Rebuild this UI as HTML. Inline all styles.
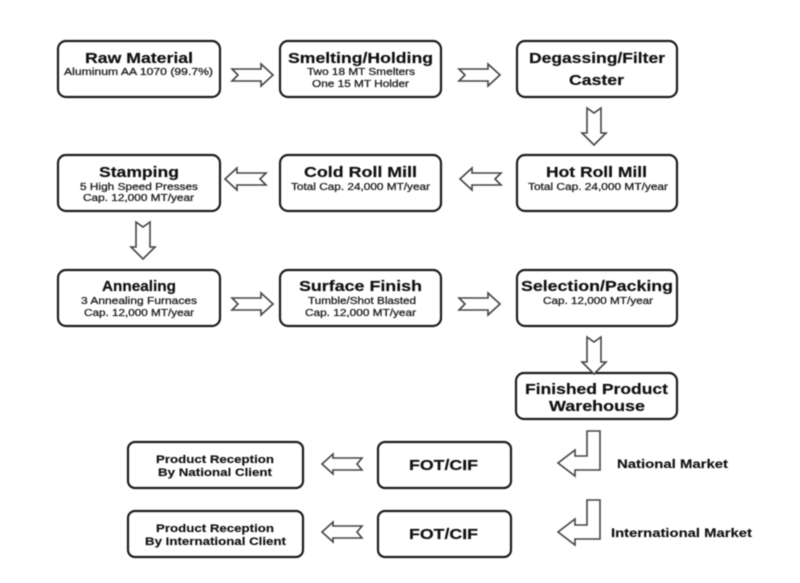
<!DOCTYPE html>
<html>
<head>
<meta charset="utf-8">
<style>
html,body{margin:0;padding:0;background:#fff;width:800px;height:583px;overflow:hidden}
svg{display:block;filter:blur(.6px)}
text{font-family:"Liberation Sans",Arial,sans-serif;fill:#111;text-anchor:middle}
.t{font-weight:700;font-size:15px;stroke:#111;stroke-width:.2px}
.m{font-weight:700;font-size:13px;stroke:#111;stroke-width:.15px}
.s{font-size:10px;fill:#222;stroke:#222;stroke-width:.3px}
rect{fill:#fff;stroke:#1c1c1c;stroke-width:2.2}
path{fill:#fff;stroke:#444;stroke-width:1.6;stroke-linejoin:miter}
</style>
</head>
<body>
<svg width="800" height="583" viewBox="0 0 800 583" xmlns="http://www.w3.org/2000/svg">
<rect x="58" y="41" width="162" height="56" rx="8"/>
<rect x="280" y="41" width="161" height="56" rx="8"/>
<rect x="517" y="41" width="160" height="56" rx="8"/>
<rect x="58" y="155" width="162" height="56" rx="8"/>
<rect x="280" y="155" width="161" height="56" rx="8"/>
<rect x="517" y="155" width="160" height="56" rx="8"/>
<rect x="58" y="270" width="162" height="56" rx="8"/>
<rect x="280" y="270" width="161" height="56" rx="8"/>
<rect x="517" y="270" width="160" height="56" rx="8"/>
<rect x="516" y="373" width="161" height="46" rx="8"/>
<rect x="128" y="442" width="175" height="46" rx="7"/>
<rect x="128" y="511" width="175" height="46" rx="7"/>
<rect x="378" y="442" width="133" height="46" rx="7"/>
<rect x="378" y="511" width="133" height="46" rx="7"/>

<path d="M232 69H261V64L273 75L261 86V81H232L238 75Z"/>
<path d="M459 69H488V64L500 75L488 86V81H459L465 75Z"/>
<path d="M232 298H261V293L273 304L261 315V310H232L238 304Z"/>
<path d="M459 298H488V293L500 304L488 315V310H459L465 304Z"/>
<path d="M266 173H237V168L225 179L237 190V185H266L260 179Z"/>
<path d="M501 173H472V168L460 179L472 190V185H501L495 179Z"/>
<path d="M362 458H333V454L322 464L333 474V470H362L357 464Z"/>
<path d="M362 526H333V522L322 532L333 542V538H362L357 532Z"/>
<path d="M587 108V133H582L594 145L606 133H601V108L594 113Z"/>
<path d="M136 222V247H131L143 259L155 247H150V222L143 227Z"/>
<path d="M587 337V362H582L594 374L606 362H601V337L594 342Z"/>
<path d="M587 431H600V470H575V476L558 463L575 450V456H587Z"/>
<path d="M587 500H600V539H575V545L558 532L575 519V525H587Z"/>

<text class="t" x="139" y="63" textLength="108" lengthAdjust="spacingAndGlyphs">Raw Material</text>
<text class="s" x="138.500" y="75" textLength="149" lengthAdjust="spacingAndGlyphs">Aluminum  AA 1070 (99.7%)</text>
<text class="t" x="360.500" y="63" textLength="145" lengthAdjust="spacingAndGlyphs">Smelting/Holding</text>
<text class="s" x="361" y="75" textLength="108" lengthAdjust="spacingAndGlyphs">Two 18 MT Smelters</text>
<text class="s" x="360.500" y="87" textLength="97" lengthAdjust="spacingAndGlyphs">One 15 MT Holder</text>
<text class="t" x="597" y="63" textLength="136" lengthAdjust="spacingAndGlyphs">Degassing/Filter</text>
<text class="t" x="596.500" y="85" textLength="55" lengthAdjust="spacingAndGlyphs">Caster</text>

<text class="t" x="139" y="177" textLength="80" lengthAdjust="spacingAndGlyphs">Stamping</text>
<text class="s" x="139" y="190" textLength="118" lengthAdjust="spacingAndGlyphs">5 High Speed Presses</text>
<text class="s" x="138.500" y="201" textLength="111" lengthAdjust="spacingAndGlyphs">Cap. 12,000 MT/year</text>
<text class="t" x="360.500" y="177" textLength="113" lengthAdjust="spacingAndGlyphs">Cold Roll Mill</text>
<text class="s" x="360.500" y="190" textLength="139" lengthAdjust="spacingAndGlyphs">Total Cap. 24,000 MT/year</text>
<text class="t" x="596.500" y="177" textLength="101" lengthAdjust="spacingAndGlyphs">Hot Roll Mill</text>
<text class="s" x="598" y="190" textLength="140" lengthAdjust="spacingAndGlyphs">Total Cap. 24,000 MT/year</text>

<text class="t" x="139" y="291" textLength="74" lengthAdjust="spacingAndGlyphs">Annealing</text>
<text class="s" x="139" y="304" textLength="116" lengthAdjust="spacingAndGlyphs">3 Annealing Furnaces</text>
<text class="s" x="139" y="316" textLength="110" lengthAdjust="spacingAndGlyphs">Cap. 12,000 MT/year</text>
<text class="t" x="360.500" y="291" textLength="123" lengthAdjust="spacingAndGlyphs">Surface Finish</text>
<text class="s" x="362" y="304" textLength="108" lengthAdjust="spacingAndGlyphs">Tumble/Shot Blasted</text>
<text class="s" x="360.500" y="316" textLength="111" lengthAdjust="spacingAndGlyphs">Cap. 12,000 MT/year</text>
<text class="t" x="597" y="291" textLength="152" lengthAdjust="spacingAndGlyphs">Selection/Packing</text>
<text class="s" x="598" y="304" textLength="110" lengthAdjust="spacingAndGlyphs">Cap. 12,000 MT/year</text>

<text class="t" x="596.500" y="394" textLength="143" lengthAdjust="spacingAndGlyphs">Finished Product</text>
<text class="t" x="597" y="411" textLength="96" lengthAdjust="spacingAndGlyphs">Warehouse</text>

<text class="m" x="672.500" y="468" style="font-size:12px" textLength="111" lengthAdjust="spacingAndGlyphs">National Market</text>
<text class="m" x="681.500" y="537" style="font-size:12px" textLength="141" lengthAdjust="spacingAndGlyphs">International Market</text>

<text class="m" x="215" y="463" style="font-size:11px" textLength="118" lengthAdjust="spacingAndGlyphs">Product Reception</text>
<text class="m" x="215" y="476" style="font-size:11px" textLength="114" lengthAdjust="spacingAndGlyphs">By National Client</text>
<text class="m" x="215" y="532" style="font-size:11px" textLength="118" lengthAdjust="spacingAndGlyphs">Product Reception</text>
<text class="m" x="215.500" y="545" style="font-size:11px" textLength="141" lengthAdjust="spacingAndGlyphs">By International Client</text>

<text class="t" x="443.500" y="470" textLength="69" lengthAdjust="spacingAndGlyphs">FOT/CIF</text>
<text class="t" x="443.500" y="539" textLength="69" lengthAdjust="spacingAndGlyphs">FOT/CIF</text>
</svg>
</body>
</html>
